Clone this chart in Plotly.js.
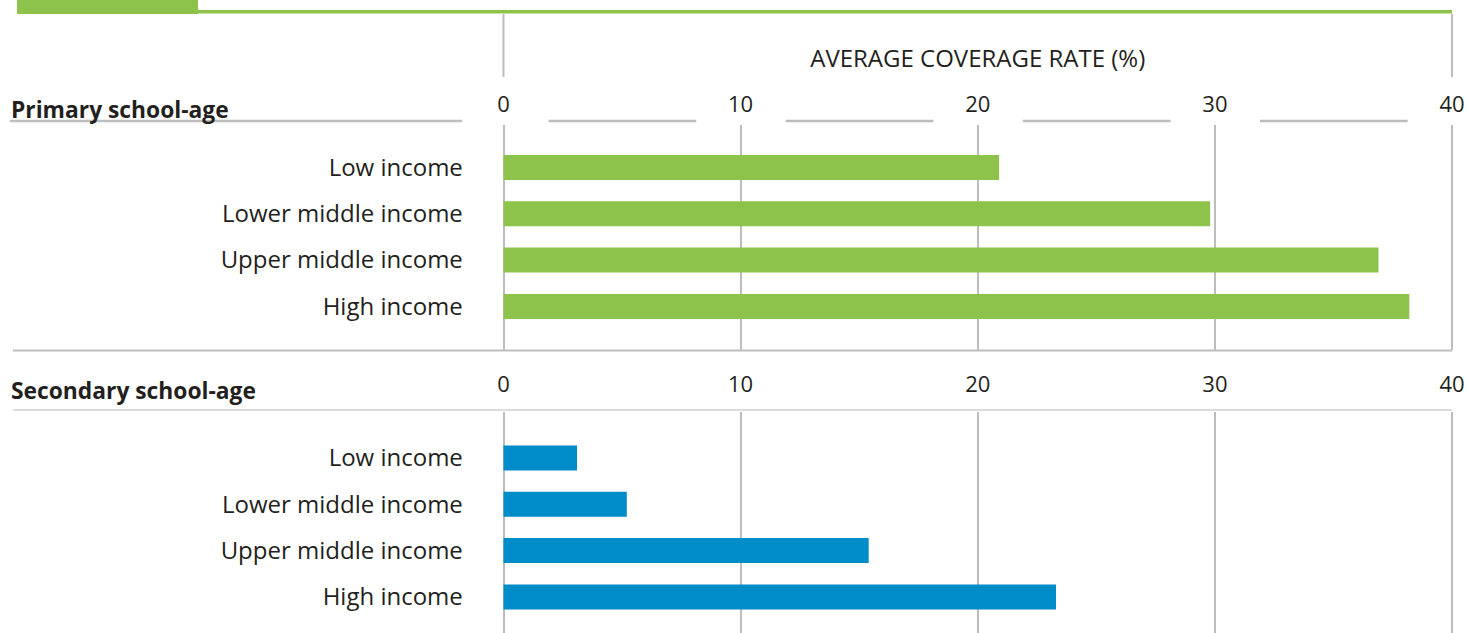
<!DOCTYPE html>
<html>
<head>
<meta charset="utf-8">
<script src="https://cdn.plot.ly/plotly-3.0.1.min.js"></script>
<style>html,body{margin:0;padding:0;background:#fff;}#chart{width:1468px;height:633px;}</style>
</head>
<body>
<div id="chart"></div>
<script>
const categories = ['Low income', 'Lower middle income', 'Upper middle income', 'High income'];
const primaryValues = [20.9, 29.8, 36.9, 38.2];
const secondaryValues = [3.1, 5.2, 15.4, 23.3];
const tickValues = [0, 10, 20, 30, 40];
const tickLabels = ['0', '10', '20', '30', '40'];
const panelTitles = ['Primary school-age', 'Secondary school-age'];
const axisTitle = 'AVERAGE COVERAGE RATE (%)';

const W = 1468, H = 633;
const FONT = 'Open Sans, Noto Sans, sans-serif';
const TXT = '#231f20';
const GRID = '#bdbdbd';
const GREEN = '#8dc34b';
const BLUE = '#008cc8';
const px = v => v / W;
const py = v => 1 - v / H;

const xDomain = [px(501.84), px(1453.66)];

const traces = [
  {type: 'bar', orientation: 'h', y: categories, x: primaryValues, xaxis: 'x', yaxis: 'y',
   marker: {color: GREEN}, width: 0.54, hoverinfo: 'x+y'},
  {type: 'bar', orientation: 'h', y: categories, x: secondaryValues, xaxis: 'x2', yaxis: 'y2',
   marker: {color: BLUE}, width: 0.54, hoverinfo: 'x+y'}
];

const xCommon = {
  range: [-0.07, 40.07], tickvals: tickValues, ticktext: tickLabels, side: 'top',
  showgrid: true, gridcolor: GRID, gridwidth: 2, zeroline: false, showline: false,
  ticks: '', tickfont: {family: FONT, size: 22, color: TXT}, fixedrange: true,
  domain: xDomain
};
const yCommon = {
  type: 'category', showgrid: false, zeroline: false, showline: false, ticks: '',
  tickfont: {family: FONT, size: 24, color: TXT}, ticklabelstandoff: 38, fixedrange: true
};

const shapes = [];
// top decoration
shapes.push({type: 'rect', xref: 'paper', yref: 'paper', x0: px(17), x1: px(198), y0: py(14), y1: py(0), fillcolor: GREEN, line: {width: 0}});
shapes.push({type: 'rect', xref: 'paper', yref: 'paper', x0: px(198), x1: px(1452), y0: py(13.5), y1: py(10), fillcolor: GREEN, line: {width: 0}});
// vertical stubs above tick labels
[tickValues[0], tickValues[tickValues.length - 1]].forEach(v => {
  shapes.push({type: 'line', xref: 'x', yref: 'paper', x0: v, x1: v, y0: py(14), y1: py(77), line: {color: GRID, width: 2}});
});
// broken line under primary labels
shapes.push({type: 'line', xref: 'paper', yref: 'paper', x0: px(10), x1: px(462), y0: py(121), y1: py(121), line: {color: GRID, width: 2.5}});
for (let i = 0; i < tickValues.length - 1; i++) {
  shapes.push({type: 'line', xref: 'x', yref: 'paper', x0: tickValues[i] + 1.9, x1: tickValues[i + 1] - 1.87,
    y0: py(121), y1: py(121), line: {color: GRID, width: 2.5}});
}
// separator lines
shapes.push({type: 'line', xref: 'paper', yref: 'paper', x0: px(13), x1: px(1452), y0: py(350.5), y1: py(350.5), line: {color: GRID, width: 2}});
shapes.push({type: 'line', xref: 'paper', yref: 'paper', x0: px(13), x1: px(1452), y0: py(410), y1: py(410), line: {color: '#dcdcdc', width: 2}});

const annotations = [
  {text: '<b>' + panelTitles[0] + '</b>', xref: 'paper', yref: 'paper', x: px(9), y: py(110), xanchor: 'left', yanchor: 'middle',
   showarrow: false, font: {family: FONT, size: 22.8, color: TXT}},
  {text: '<b>' + panelTitles[1] + '</b>', xref: 'paper', yref: 'paper', x: px(9), y: py(390), xanchor: 'left', yanchor: 'middle',
   showarrow: false, font: {family: FONT, size: 22.8, color: TXT}}
];

const layout = {
  width: W, height: H,
  margin: {l: 0, r: 0, t: 0, b: 0},
  paper_bgcolor: '#fff', plot_bgcolor: 'rgba(0,0,0,0)',
  showlegend: false, bargap: 0.46,
  font: {family: FONT, color: TXT},
  xaxis: Object.assign({}, xCommon, {anchor: 'y', ticklabelstandoff: 8,
    title: {text: axisTitle, font: {family: FONT, size: 24, color: TXT}, standoff: 13}}),
  yaxis: Object.assign({}, yCommon, {domain: [py(350), py(125)], anchor: 'x', range: [3.942, -0.918]}),
  xaxis2: Object.assign({}, xCommon, {anchor: 'y2', ticklabelstandoff: 15}),
  yaxis2: Object.assign({}, yCommon, {domain: [0, py(412)], anchor: 'x2', range: [3.78, -0.994]}),
  shapes: shapes,
  annotations: annotations
};

Plotly.newPlot('chart', traces, layout, {displayModeBar: false, staticPlot: true});
</script>
</body>
</html>
